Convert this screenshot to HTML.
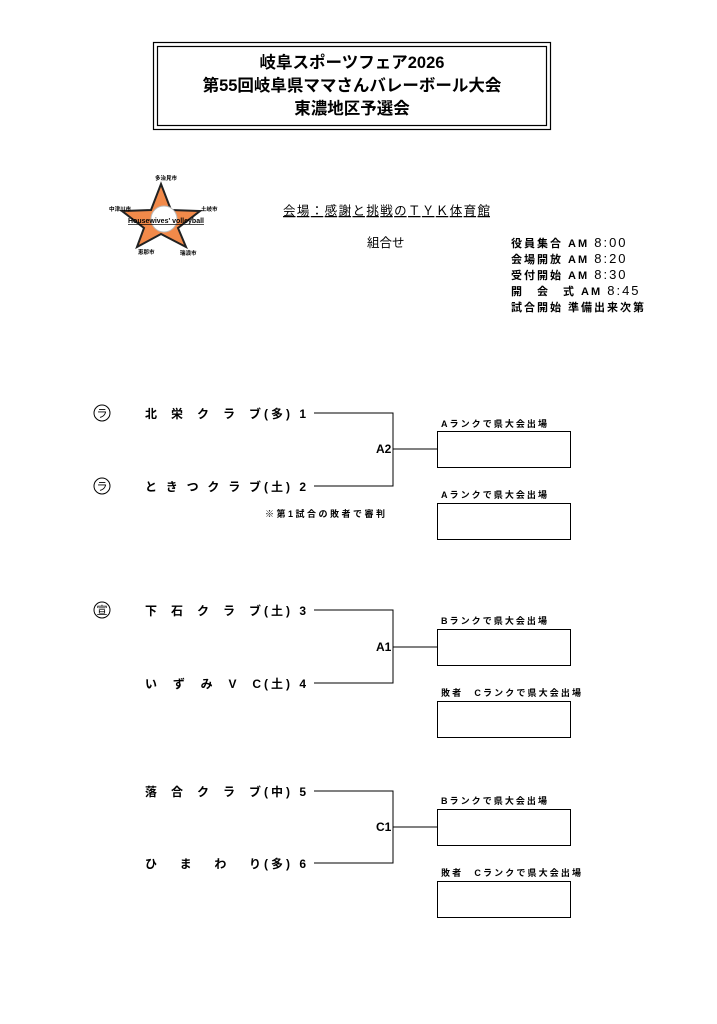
<!DOCTYPE html>
<html><head><meta charset="utf-8"><style>
html,body{margin:0;padding:0;background:#fff;}
svg{display:block;}
text{font-family:"Liberation Sans","Noto Sans CJK JP",sans-serif;fill:#000;}
</style></head><body>
<svg width="717" height="1024" viewBox="0 0 717 1024" xmlns="http://www.w3.org/2000/svg">
<rect x="153.5" y="42.5" width="397" height="87" fill="none" stroke="#000" stroke-width="1.2"/>
<rect x="157.5" y="46.5" width="389" height="79" fill="none" stroke="#000" stroke-width="1.2"/>
<g font-weight="bold" font-size="16.5" text-anchor="middle">
<text x="352" y="68">岐阜スポーツフェア2026</text>
<text x="352" y="91">第55回岐阜県ママさんバレーボール大会</text>
<text x="352" y="114">東濃地区予選会</text>
</g>
<!-- logo -->
<polygon points="161,184 171,210 200,211 178,228 186,247 161,234 137,247 144,228 122,211 151,210" fill="#f28a4a" stroke="#222" stroke-width="2"/>
<circle cx="164" cy="219" r="13" fill="#fff" stroke="#bbb"/>
<g font-size="5.5" font-weight="bold">
<text x="155" y="180">多治見市</text>
<text x="109" y="211">中津川市</text>
<text x="201" y="211">土岐市</text>
<text x="138" y="254">恵那市</text>
<text x="180" y="255">瑞浪市</text>
<text x="128" y="223" font-size="7" text-decoration="underline">Housewives' volleyball</text>
</g>
<text x="283" y="215" font-size="12.5" text-decoration="underline" textLength="207" lengthAdjust="spacing">会場：感謝と挑戦のＴＹＫ体育館</text>
<text x="367" y="247" font-size="12.5">組合せ</text>
<g font-size="11" font-weight="bold">
<text x="511" y="247" letter-spacing="2">役員集合 AM <tspan font-weight="normal" font-size="13">8:00</tspan></text>
<text x="511" y="263" letter-spacing="2">会場開放 AM <tspan font-weight="normal" font-size="13">8:20</tspan></text>
<text x="511" y="279" letter-spacing="2">受付開始 AM <tspan font-weight="normal" font-size="13">8:30</tspan></text>
<text x="511" y="295" letter-spacing="2">開　会　式 AM <tspan font-weight="normal" font-size="13">8:45</tspan></text>
<text x="511" y="311" letter-spacing="2">試合開始 準備出来次第</text>
</g>
<!-- circles -->
<g fill="none" stroke="#000" stroke-width="1">
<circle cx="102" cy="413" r="8"/><circle cx="102" cy="486" r="8"/><circle cx="102" cy="610" r="8"/>
</g>
<g font-size="11" text-anchor="middle">
<text x="102" y="417">ラ</text><text x="102" y="490">ラ</text><text x="102" y="614">宣</text>
</g>
<g font-size="12" font-weight="bold">
<text x="145" y="418" textLength="116" lengthAdjust="spacing">北栄クラブ</text>
<text x="145" y="491" textLength="116" lengthAdjust="spacing">ときつクラブ</text>
<text x="145" y="615" textLength="116" lengthAdjust="spacing">下石クラブ</text>
<text x="145" y="688" textLength="116" lengthAdjust="spacing">いずみVC</text>
<text x="145" y="796" textLength="116" lengthAdjust="spacing">落合クラブ</text>
<text x="145" y="868" textLength="116" lengthAdjust="spacing">ひまわり</text>
<text x="264" y="418" textLength="42" lengthAdjust="spacing">(多) 1</text>
<text x="264" y="491" textLength="42" lengthAdjust="spacing">(土) 2</text>
<text x="264" y="615" textLength="42" lengthAdjust="spacing">(土) 3</text>
<text x="264" y="688" textLength="42" lengthAdjust="spacing">(土) 4</text>
<text x="264" y="796" textLength="42" lengthAdjust="spacing">(中) 5</text>
<text x="264" y="868" textLength="42" lengthAdjust="spacing">(多) 6</text>
</g>
<text x="265" y="517" font-size="9" font-weight="bold" textLength="120" lengthAdjust="spacing">※第1試合の敗者で審判</text>
<g fill="none" stroke="#000" stroke-width="1">
<polyline points="314,413 393,413 393,486 314,486"/><line x1="393" y1="449" x2="437" y2="449"/>
<polyline points="314,610 393,610 393,683 314,683"/><line x1="393" y1="647" x2="437" y2="647"/>
<polyline points="314,791 393,791 393,863 314,863"/><line x1="393" y1="827" x2="437" y2="827"/>
<rect x="437.5" y="431.5" width="133" height="36"/>
<rect x="437.5" y="503.5" width="133" height="36"/>
<rect x="437.5" y="629.5" width="133" height="36"/>
<rect x="437.5" y="701.5" width="133" height="36"/>
<rect x="437.5" y="809.5" width="133" height="36"/>
<rect x="437.5" y="881.5" width="133" height="36"/>
</g>
<g font-size="12" font-weight="bold">
<text x="376" y="453">A2</text><text x="376" y="651">A1</text><text x="376" y="831">C1</text>
</g>
<g font-size="9" font-weight="bold">
<text x="441" y="427" textLength="106" lengthAdjust="spacing">Aランクで県大会出場</text>
<text x="441" y="498" textLength="106" lengthAdjust="spacing">Aランクで県大会出場</text>
<text x="441" y="624" textLength="106" lengthAdjust="spacing">Bランクで県大会出場</text>
<text x="441" y="696" textLength="140" lengthAdjust="spacing">敗者　Cランクで県大会出場</text>
<text x="441" y="804" textLength="106" lengthAdjust="spacing">Bランクで県大会出場</text>
<text x="441" y="876" textLength="140" lengthAdjust="spacing">敗者　Cランクで県大会出場</text>
</g>
</svg>
</body></html>
